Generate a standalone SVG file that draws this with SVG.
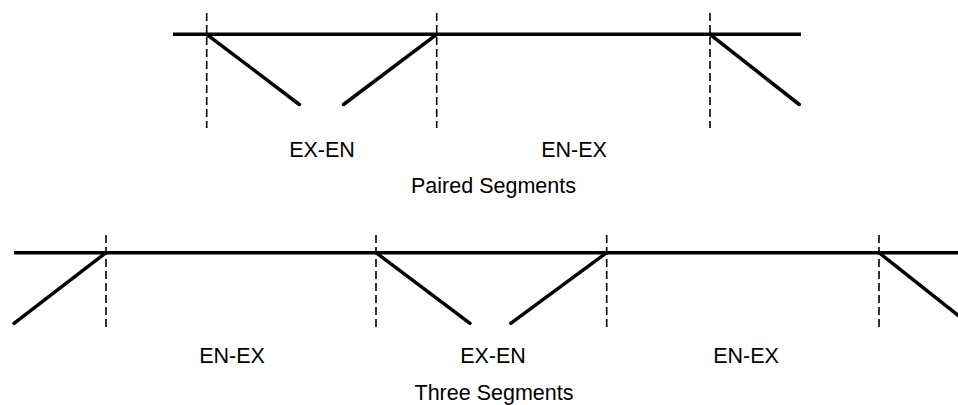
<svg xmlns="http://www.w3.org/2000/svg" width="958" height="405" viewBox="0 0 958 405">
  <style>
    .track { stroke: #000; stroke-width: 3.5; fill: none; stroke-linecap: butt; }
    .ramp { stroke: #000; stroke-width: 3.5; fill: none; stroke-linecap: round; }
    .cut { stroke: #000; stroke-width: 1.6; fill: none; stroke-dasharray: 8 4; }
    .label { font-family: "Liberation Sans", Arial, sans-serif; font-size: 21.5px; fill: #000; text-anchor: middle; }
  </style>
  <rect width="958" height="405" fill="#fff"/>

  <!-- Paired segments -->
  <g id="paired">
    <g id="paired-connectors">
      <line class="track" x1="173" y1="34.3" x2="801" y2="34.3"/>
      <line class="cut" x1="206.7" y1="13" x2="206.7" y2="128"/>
      <line class="cut" x1="436.7" y1="13" x2="436.7" y2="128"/>
      <line class="cut" x1="710" y1="13" x2="710" y2="128"/>
      <line class="ramp" x1="206.7" y1="34.3" x2="299.3" y2="104.5"/>
      <line class="ramp" x1="436.7" y1="34.3" x2="343.5" y2="104.5"/>
      <line class="ramp" x1="710" y1="34.3" x2="799.3" y2="104.5"/>
    </g>
    <g id="paired-ex-en"><text class="label" x="322" y="156.5">EX-EN</text></g>
    <g id="paired-en-ex"><text class="label" x="574" y="156.5">EN-EX</text></g>
    <g id="paired-title"><text class="label" x="493.5" y="192.5">Paired Segments</text></g>
  </g>

  <!-- Three segments -->
  <g id="three">
    <g id="three-connectors">
      <line class="track" x1="14" y1="252.7" x2="958" y2="252.7"/>
      <line class="cut" x1="106" y1="235" x2="106" y2="331"/>
      <line class="cut" x1="376" y1="235" x2="376" y2="331"/>
      <line class="cut" x1="606.7" y1="235" x2="606.7" y2="331"/>
      <line class="cut" x1="879" y1="235" x2="879" y2="331"/>
      <line class="ramp" x1="106" y1="252.7" x2="14" y2="323.3"/>
      <line class="ramp" x1="376" y1="252.7" x2="470" y2="323.3"/>
      <line class="ramp" x1="606.7" y1="252.7" x2="510.7" y2="323.3"/>
      <line class="ramp" x1="879" y1="252.7" x2="964" y2="320"/>
    </g>
    <g id="three-en-ex-1"><text class="label" x="232" y="362.7">EN-EX</text></g>
    <g id="three-ex-en"><text class="label" x="493" y="362.7">EX-EN</text></g>
    <g id="three-en-ex-2"><text class="label" x="746" y="362.7">EN-EX</text></g>
    <g id="three-title"><text class="label" x="494" y="399.5">Three Segments</text></g>
  </g>
</svg>
